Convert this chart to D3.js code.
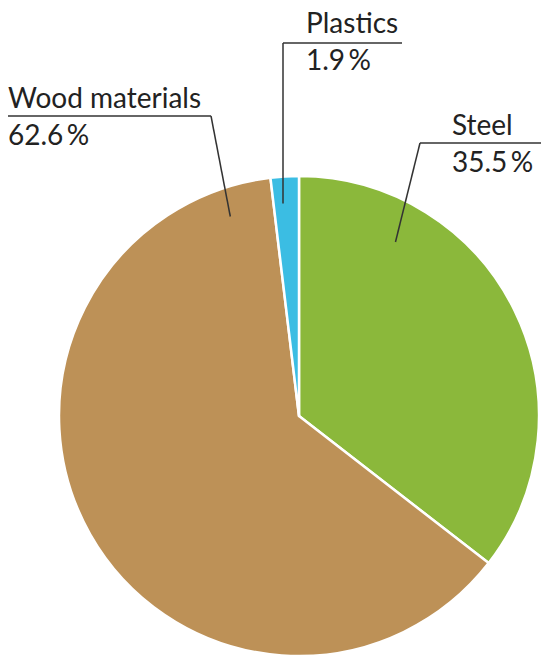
<!DOCTYPE html>
<html>
<head>
<meta charset="utf-8">
<script src="https://cdn.jsdelivr.net/npm/d3@7"></script>
<style>
  body { margin: 0; background: #fff; }
  svg text { font-family: Lato, "Open Sans", sans-serif; fill: #222; }
</style>
</head>
<body>
<div id="chart"></div>
<script>
const categories = ["Steel", "Wood materials", "Plastics"];
const shares = [35.5, 62.6, 1.9];
const colors = ["#8bb83b", "#bd9157", "#3bbde3"];

const width = 541, height = 655;
const cx = 299, cy = 416, radius = 240;

// label layout: text position, underline extent, pointer (angle deg, radius)
const labelLayout = [
    { x: 452, y: 135, lineX1: 420, lineX2: 541, lineY: 143, elbowX: 420, ang: 29, r: 199 },
    { x: 8, y: 108, lineX1: 8, lineX2: 211, lineY: 116, elbowX: 211, ang: -19, r: 211 },
    { x: 306, y: 33, lineX1: 283, lineX2: 402, lineY: 43, elbowX: 283, ang: -4.3, r: 213 }
];

const svg = d3.select("#chart")
    .append("svg")
    .attr("width", width)
    .attr("height", height);

const pie = d3.pie().sort(null).value(d => d.value);
const arc = d3.arc().innerRadius(0).outerRadius(radius);

const data = categories.map((c, i) => ({ name: c, value: shares[i], color: colors[i] }));

const g = svg.append("g").attr("transform", `translate(${cx},${cy})`);

g.selectAll("path")
    .data(pie(data))
    .enter()
    .append("path")
    .attr("d", arc)
    .attr("fill", d => d.data.color)
    .attr("stroke", "#fff")
    .attr("stroke-width", 2.5)
    .attr("stroke-linejoin", "round");

// Labels and leader lines
data.forEach((d, i) => {
    const L = labelLayout[i];
    const a = L.ang * Math.PI / 180;
    const px = cx + Math.sin(a) * L.r;
    const py = cy - Math.cos(a) * L.r;

    svg.append("line")
        .attr("x1", L.lineX1).attr("x2", L.lineX2)
        .attr("y1", L.lineY).attr("y2", L.lineY)
        .attr("stroke", "#333").attr("stroke-width", 1.5);

    svg.append("line")
        .attr("x1", L.elbowX).attr("y1", L.lineY)
        .attr("x2", px).attr("y2", py)
        .attr("stroke", "#333").attr("stroke-width", 1.5);

    svg.append("text")
        .attr("x", L.x).attr("y", L.y)
        .style("font-size", "28px")
        .text(d.name);

    svg.append("text")
        .attr("x", L.x).attr("y", L.y + 37)
        .style("font-size", "28px")
        .text(d3.format(".1f")(d.value) + "\u2009%");
});
</script>
</body>
</html>
